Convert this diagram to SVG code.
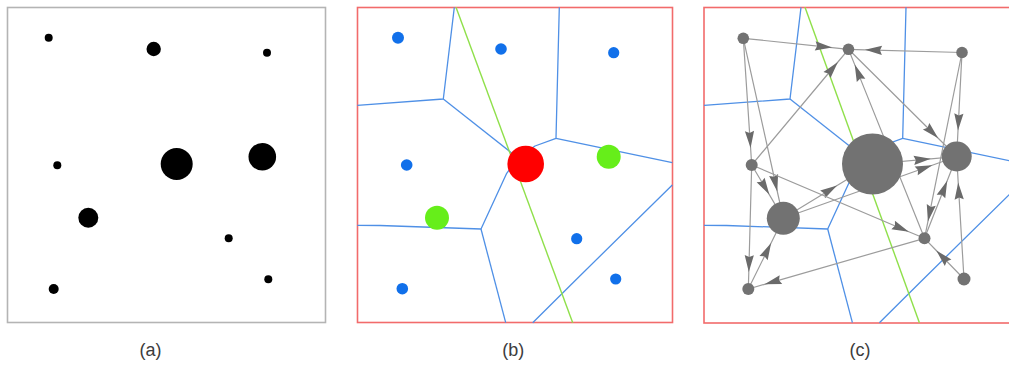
<svg xmlns="http://www.w3.org/2000/svg" width="1009" height="365" viewBox="0 0 1009 365">
<defs>
<style>
.frameA{fill:#fff;stroke:#b4b4b4;stroke-width:1.6}
.frameR{fill:#fff;stroke:#f26b6b;stroke-width:1.6}
.vor{fill:none;stroke:#4f90e6;stroke-width:1.3;stroke-linejoin:round}
.sep{fill:none;stroke:#8fe04a;stroke-width:1.4}
.blk{fill:#000}
.blue{fill:#1170ea}
.grn{fill:#66ee1a}
.red{fill:#ff0000}
.gn{fill:#727272}
.edge{fill:none;stroke:#9c9c9c;stroke-width:1.2;marker-mid:url(#ah)}
.lbl{font-family:"Liberation Sans",Arial,sans-serif;font-size:18px;fill:#3c3c3c;text-anchor:middle}
</style>
<marker id="ah" markerUnits="userSpaceOnUse" orient="auto" refX="0" refY="0" markerWidth="20" markerHeight="10" overflow="visible"><path d="M0,0 L-17,-4.6 L-15,0 L-17,4.6 Z" fill="#6a6a6a"/></marker>
</defs>
<rect x="0" y="0" width="1009" height="365" fill="#fff"/>

<!-- Panel (a) -->
<g id="panel-a">
<rect class="frameA" x="7.5" y="7.5" width="318" height="315"/>
<g id="a-n1"><circle class="blk" cx="48.7" cy="37.7" r="4"/></g>
<g id="a-n2"><circle class="blk" cx="153.7" cy="49" r="7.2"/></g>
<g id="a-n3"><circle class="blk" cx="267" cy="52.7" r="4"/></g>
<g id="a-n4"><circle class="blk" cx="57.3" cy="165.3" r="4"/></g>
<g id="a-n5"><circle class="blk" cx="176.7" cy="164" r="16"/></g>
<g id="a-n6"><circle class="blk" cx="262.3" cy="156.7" r="13.8"/></g>
<g id="a-n7"><circle class="blk" cx="88.3" cy="217.7" r="10"/></g>
<g id="a-n8"><circle class="blk" cx="228.7" cy="238.3" r="4"/></g>
<g id="a-n9"><circle class="blk" cx="268.3" cy="279.3" r="4"/></g>
<g id="a-n10"><circle class="blk" cx="53.7" cy="289" r="5"/></g>
<text class="lbl" x="150.5" y="356">(a)</text>
</g>

<!-- Panel (b) -->
<g id="panel-b">
<rect class="frameR" x="357.5" y="7.5" width="315" height="315"/>
<g id="b-voronoi">
<polyline class="vor" points="454.3,7.3 443.3,99 357.3,105.3"/>
<polyline class="vor" points="443.3,99 518,158"/>
<polyline class="vor" points="559.3,7.3 556,138.3 535,146 518,158"/>
<polyline class="vor" points="556,138.3 672.3,162.7"/>
<polyline class="vor" points="518,158 506.7,173.3 481,229 380,225.5 357.3,225.3"/>
<polyline class="vor" points="481,229 505.7,322.7"/>
<polyline class="vor" points="672.3,185 574,281.7 532.7,322.7"/>
</g>
<line class="sep" x1="456" y1="7.3" x2="572.7" y2="322.7"/>
<g id="b-n1"><circle class="blue" cx="398" cy="37.7" r="6"/></g>
<g id="b-n2"><circle class="blue" cx="501" cy="49" r="5.8"/></g>
<g id="b-n3"><circle class="blue" cx="613.7" cy="52.7" r="5.6"/></g>
<g id="b-n4"><circle class="blue" cx="406.7" cy="165" r="5.8"/></g>
<g id="b-n5"><circle class="red" cx="525.7" cy="164" r="18.3"/></g>
<g id="b-n6"><circle class="grn" cx="608.7" cy="156.7" r="12"/></g>
<g id="b-n7"><circle class="grn" cx="437" cy="217.7" r="12"/></g>
<g id="b-n8"><circle class="blue" cx="576.7" cy="238.7" r="5.6"/></g>
<g id="b-n9"><circle class="blue" cx="615.7" cy="279" r="5.6"/></g>
<g id="b-n10"><circle class="blue" cx="402.3" cy="288.7" r="5.8"/></g>
<text class="lbl" x="513.3" y="356">(b)</text>
</g>

<!-- Panel (c) -->
<g id="panel-c">
<rect class="frameR" x="704" y="7.5" width="330" height="315.5"/>
<g id="c-voronoi">
<polyline class="vor" points="801,7.3 790,99 704,105.3"/>
<polyline class="vor" points="790,99 864.7,158"/>
<polyline class="vor" points="906,7.3 902.7,138.3 881.7,146 864.7,158"/>
<polyline class="vor" points="902.7,138.3 1019,162.7"/>
<polyline class="vor" points="864.7,158 853.4,173.3 827.7,229 726.7,225.5 704,225.3"/>
<polyline class="vor" points="827.7,229 852.4,322.7"/>
<polyline class="vor" points="1019,185 920.7,281.7 879.4,322.7"/>
</g>
<line class="sep" x1="805" y1="7.3" x2="919.4" y2="322.7"/>
<g id="connectors">
<polyline class="edge" points="743.3,38.3 832.1,47.6 848.5,49.3"/>
<polyline class="edge" points="962,52.5 865,49.8 848.5,49.3"/>
<polyline class="edge" points="751.7,165 837.9,62 848.5,49.3"/>
<polyline class="edge" points="924.5,238.3 854.7,64.6 848.5,49.3"/>
<polyline class="edge" points="848.5,49.3 938.2,138.2 956.7,156.5"/>
<polyline class="edge" points="962,52.5 958,130.5 956.7,156.5"/>
<polyline class="edge" points="962,52.5 927.9,221.6 924.5,238.3"/>
<polyline class="edge" points="924.5,238.3 947.2,180.7 956.7,156.5"/>
<polyline class="edge" points="964,279 958.2,182.5 956.7,156.5"/>
<polyline class="edge" points="964,279 936.3,250.5 924.5,238.3"/>
<polyline class="edge" points="783.3,218.3 837.1,185.6 872.5,164"/>
<polyline class="edge" points="783.3,218.3 932.2,165.2 956.7,156.5"/>
<polyline class="edge" points="872.5,164 930.8,158.8 956.7,156.5"/>
<polyline class="edge" points="743.3,38.3 750.6,148 751.7,165"/>
<polyline class="edge" points="743.3,38.3 777.3,191.5 783.3,218.3"/>
<polyline class="edge" points="751.7,165 769.3,194.6 783.3,218.3"/>
<polyline class="edge" points="751.7,165 748.8,272 748.3,289"/>
<polyline class="edge" points="751.7,165 908.8,231.7 924.5,238.3"/>
<polyline class="edge" points="748.3,289 771.1,242.9 783.3,218.3"/>
<polyline class="edge" points="924.5,238.3 764.6,284.3 748.3,289"/>
</g>
<g id="c-A"><circle class="gn" cx="743.3" cy="38.3" r="5.8"/></g>
<g id="c-B"><circle class="gn" cx="848.5" cy="49.3" r="5.8"/></g>
<g id="c-C"><circle class="gn" cx="962" cy="52.5" r="5.8"/></g>
<g id="c-D"><circle class="gn" cx="751.7" cy="165" r="6"/></g>
<g id="c-E"><circle class="gn" cx="872.5" cy="164" r="30.5"/></g>
<g id="c-F"><circle class="gn" cx="956.7" cy="156.5" r="15"/></g>
<g id="c-G"><circle class="gn" cx="783.3" cy="218.3" r="16.5"/></g>
<g id="c-H"><circle class="gn" cx="924.5" cy="238.3" r="6"/></g>
<g id="c-I"><circle class="gn" cx="964" cy="279" r="6.5"/></g>
<g id="c-J"><circle class="gn" cx="748.3" cy="289" r="6"/></g>
<text class="lbl" x="860" y="356">(c)</text>
</g>
</svg>
